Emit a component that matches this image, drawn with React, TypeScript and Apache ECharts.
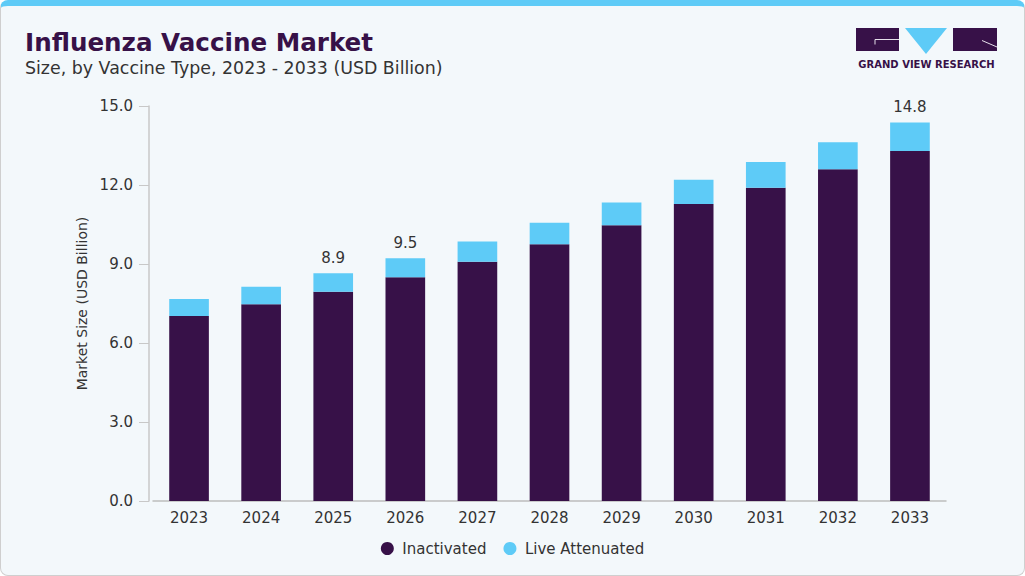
import React, { useEffect, useRef } from "react";
import * as echarts from "echarts";

const categories = ["2023", "2024", "2025", "2026", "2027", "2028", "2029", "2030", "2031", "2032", "2033"];
const inactivated = [7.03, 7.47, 7.95, 8.5, 9.09, 9.75, 10.47, 11.28, 11.9, 12.6, 13.29];
const liveAttenuated = [0.64, 0.67, 0.7, 0.72, 0.76, 0.82, 0.87, 0.92, 0.97, 1.02, 1.08];
const totalLabels = ["", "", "8.9", "9.5", "", "", "", "", "", "", "14.8"];
const yTicks = { min: 0, max: 15, interval: 3 };

const DARK = "#371148";
const BLUE = "#5ecbf7";
const TEXT = "#333333";
const FONT = "'DejaVu Sans', sans-serif";

export default function App() {
  const ref = useRef<HTMLDivElement>(null);

  useEffect(() => {
    if (!ref.current) return;
    const chart = echarts.init(ref.current, undefined, { renderer: "svg" });
    chart.setOption({
      animation: false,
      textStyle: { fontFamily: FONT },
      title: {
        left: 20,
        top: 25,
        text: "Influenza Vaccine Market",
        textStyle: { fontSize: 24.6, fontWeight: "bold", color: DARK, fontFamily: FONT },
        subtext: "Size, by Vaccine Type, 2023 - 2033 (USD Billion)",
        subtextStyle: { fontSize: 17.4, color: TEXT, fontFamily: FONT },
        itemGap: 4,
      },
      legend: {
        left: "center",
        top: 536,
        icon: "circle",
        itemWidth: 20,
        itemHeight: 13,
        itemGap: 17,
        textStyle: { fontSize: 15, color: TEXT, fontFamily: FONT },
        data: ["Inactivated", "Live Attenuated"],
      },
      grid: { left: 153, right: 79, top: 106, bottom: 75, containLabel: false },
      xAxis: {
        type: "category",
        data: categories,
        axisTick: { show: false },
        axisLine: { lineStyle: { color: "#bdbdbd", width: 1.5 } },
        axisLabel: { fontSize: 15, color: TEXT, margin: 9 },
      },
      yAxis: {
        type: "value",
        min: yTicks.min,
        max: yTicks.max,
        interval: yTicks.interval,
        offset: 4,
        name: "Market Size (USD Billion)",
        nameLocation: "middle",
        nameGap: 56,
        nameTextStyle: { fontSize: 14, color: TEXT },
        axisLine: { show: true, lineStyle: { color: "#c8c8c8", width: 1.5 } },
        axisTick: { show: true, length: 10, lineStyle: { color: "#c8c8c8" } },
        splitLine: { show: false },
        axisLabel: {
          fontSize: 15,
          color: TEXT,
          margin: 16,
          formatter: (v: number) => v.toFixed(1),
        },
      },
      series: [
        {
          name: "Inactivated",
          type: "bar",
          stack: "total",
          barWidth: "55%",
          data: inactivated,
          itemStyle: { color: DARK },
        },
        {
          name: "Live Attenuated",
          type: "bar",
          stack: "total",
          barWidth: "55%",
          data: liveAttenuated,
          itemStyle: { color: BLUE },
          label: {
            show: true,
            position: "top",
            distance: 8,
            fontSize: 15,
            color: TEXT,
            formatter: (p: any) => totalLabels[p.dataIndex],
          },
        },
      ],
      graphic: [
        {
          type: "group",
          left: 856,
          top: 28,
          children: [
            { type: "rect", shape: { x: 0, y: 0, width: 43, height: 23 }, style: { fill: DARK } },
            {
              type: "polyline",
              shape: { points: [[19, 16.5], [19, 11.5], [43, 11.5]] },
              style: { stroke: "#e6e0ea", fill: "none", lineWidth: 1 },
            },
            { type: "polygon", shape: { points: [[49, 0], [91, 0], [70, 26]] }, style: { fill: BLUE } },
            { type: "rect", shape: { x: 97, y: 0, width: 44, height: 23 }, style: { fill: DARK } },
            {
              type: "line",
              shape: { x1: 126, y1: 12.5, x2: 141, y2: 19 },
              style: { stroke: "#e6e0ea", lineWidth: 1 },
            },
            {
              type: "text",
              x: 70.5,
              y: 36.5,
              style: {
                text: "GRAND VIEW RESEARCH",
                fill: DARK,
                font: "bold 10px 'DejaVu Sans', sans-serif",
                align: "center",
                verticalAlign: "middle",
              },
            },
          ],
        },
      ],
    });
    return () => chart.dispose();
  }, []);

  return (
    <div
      style={{
        position: "fixed",
        left: 0,
        top: 0,
        width: 1025,
        height: 576,
        background: "#ffffff",
      }}
    >
      <div
        style={{
          position: "absolute",
          left: 0,
          top: 0,
          width: 1025,
          height: 576,
          boxSizing: "border-box",
          background: "#f3f8fb",
          border: "1px solid #cfcfcf",
          borderTop: "6px solid #5ecbf7",
          borderRadius: 8,
        }}
      />
      <div ref={ref} style={{ position: "absolute", left: 0, top: 0, width: 1025, height: 576 }} />
    </div>
  );
}
